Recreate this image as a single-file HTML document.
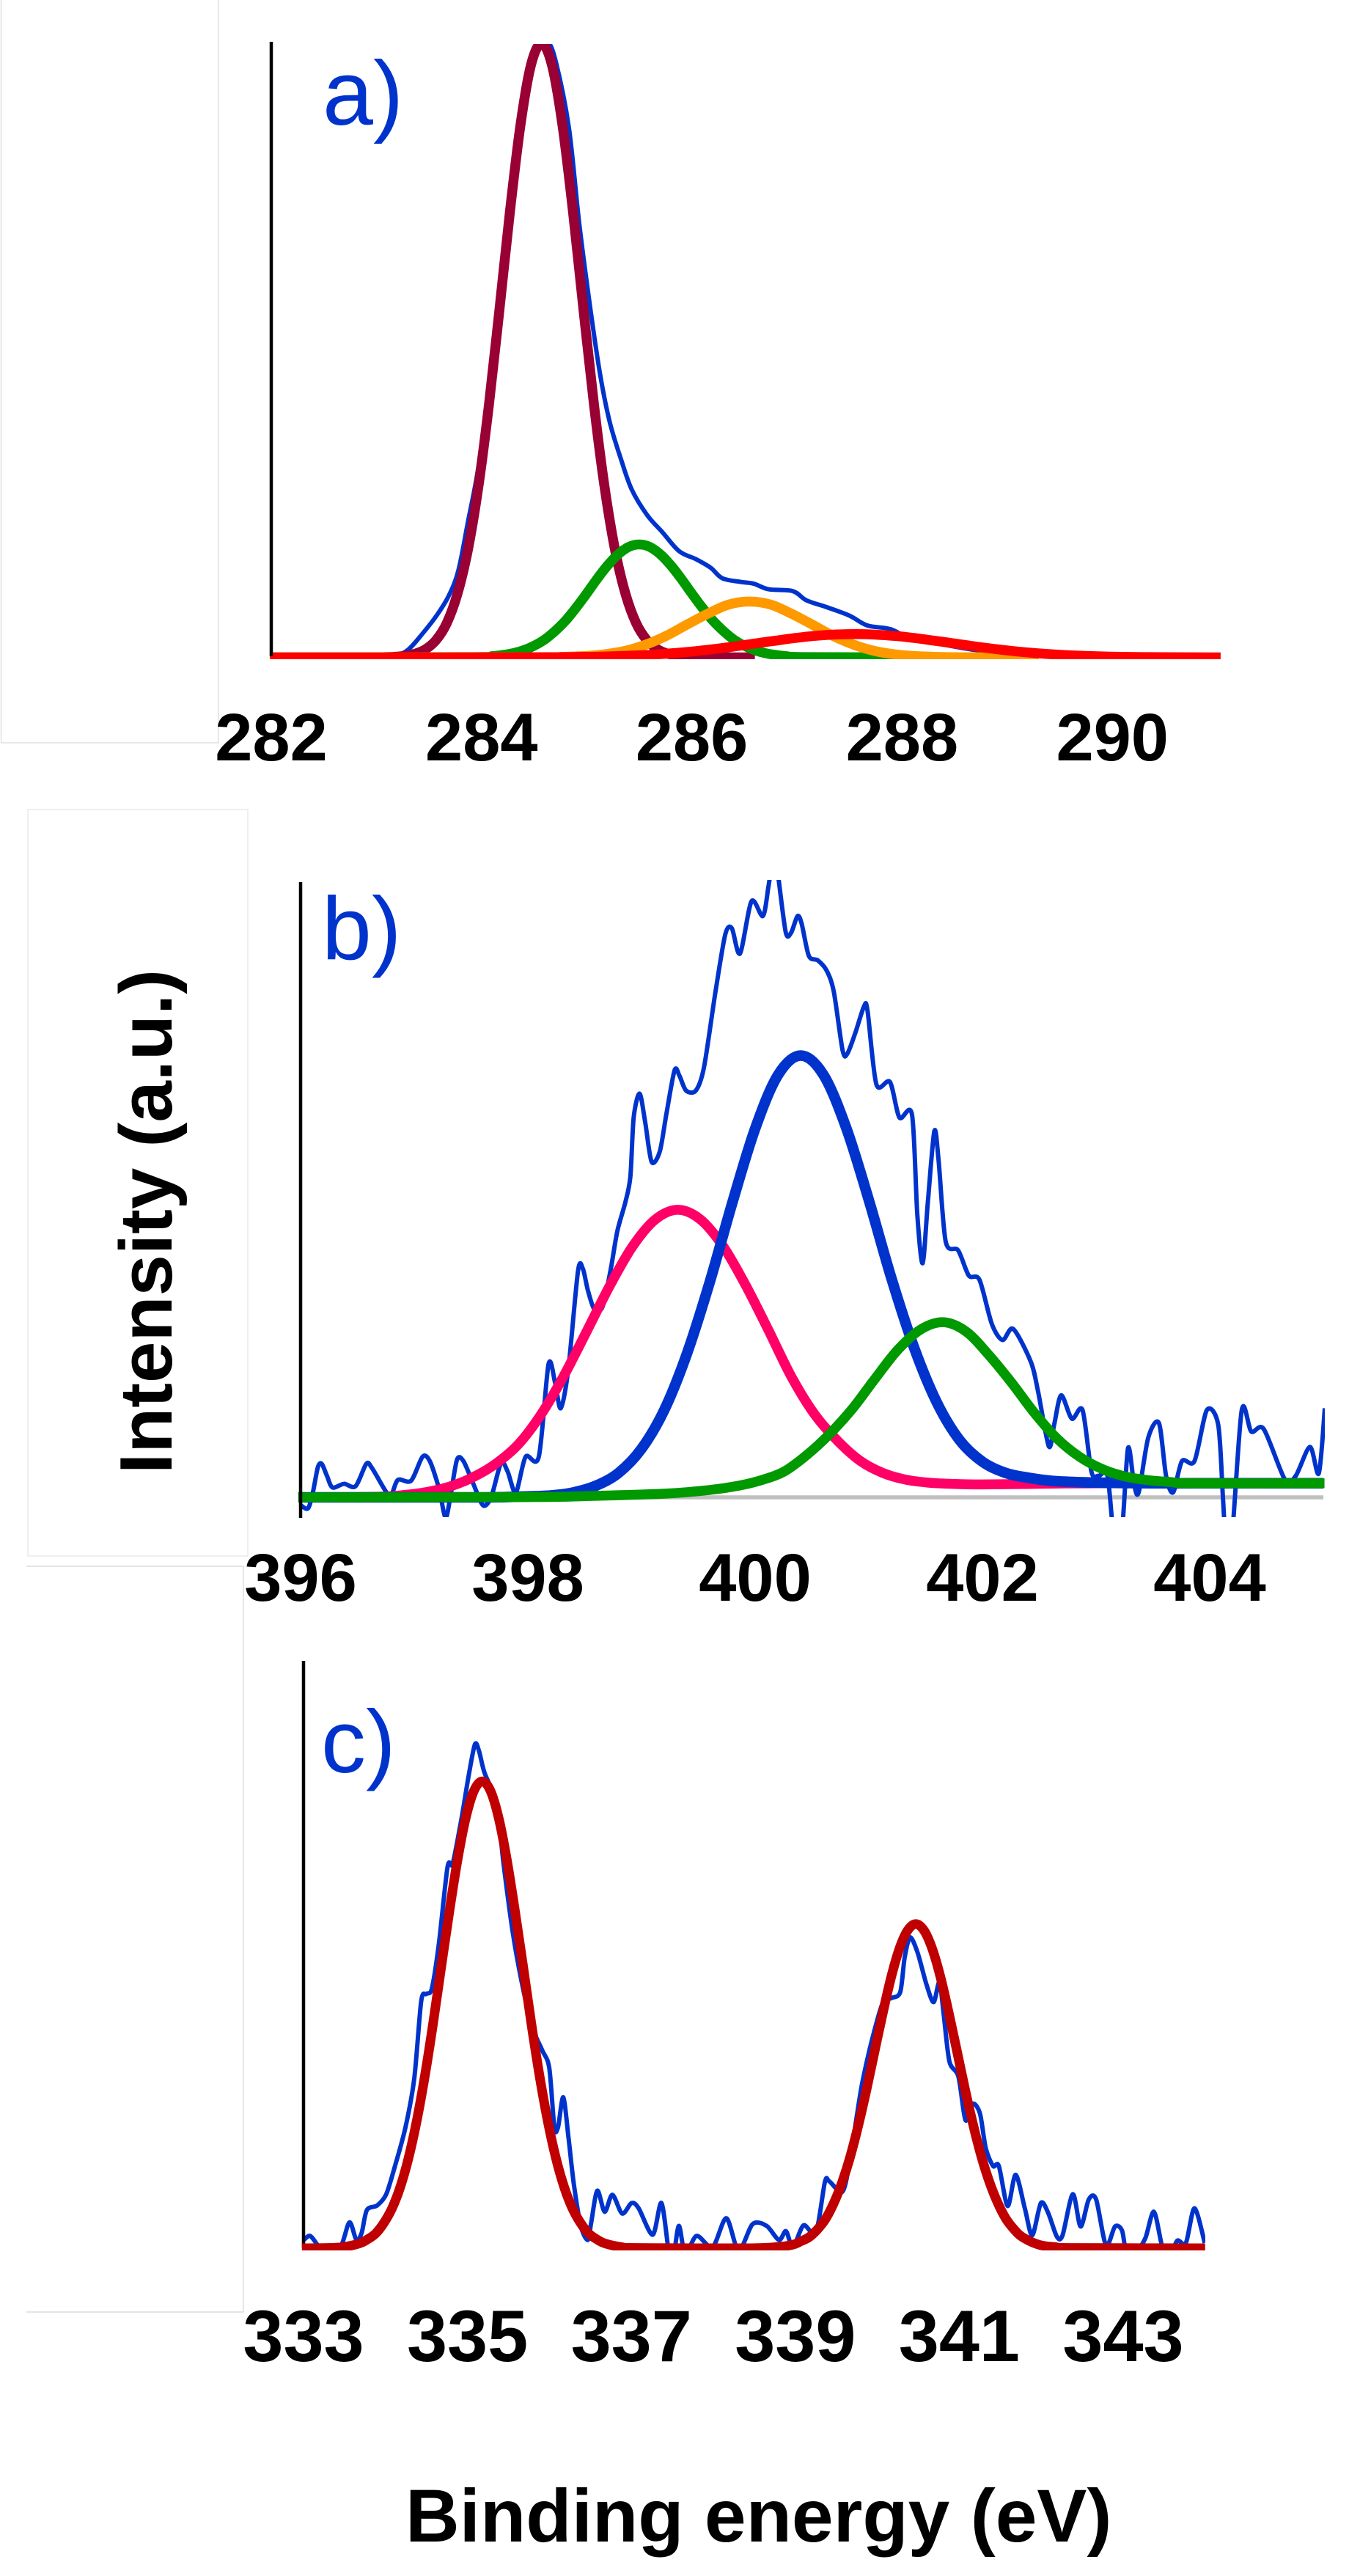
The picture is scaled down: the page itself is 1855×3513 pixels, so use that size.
<!DOCTYPE html>
<html lang="en">
<head>
<meta charset="utf-8">
<title>XPS spectra</title>
<style>
html,body{margin:0;padding:0;background:#fff;}
svg{display:block;}
text{font-family:"Liberation Sans",sans-serif;}
</style>
</head>
<body>
<svg id="chart" xmlns="http://www.w3.org/2000/svg" width="1855" height="3513" viewBox="0 0 1855 3513">
<defs>
<clipPath id="clip-a"><rect x="360" y="60" width="1305" height="839"/></clipPath>
<clipPath id="clip-b"><rect x="400" y="1200" width="1407" height="869"/></clipPath>
<clipPath id="clip-bthin"><rect x="410" y="1200" width="1397" height="869"/></clipPath>
<clipPath id="clip-c"><rect x="405" y="2265" width="1239" height="804"/></clipPath>
<clipPath id="clip-cthin"><rect x="414" y="2265" width="1230" height="799"/></clipPath>
</defs>
<rect x="0" y="0" width="1855" height="3513" fill="#fff"/>
<g fill="none" stroke="#d8d8d8" stroke-width="1.2">
<rect x="1.5" y="-3" width="296.5" height="1016"/>
<rect x="38" y="1104" width="300" height="1018" stroke="#e4e4e4"/>
<path d="M36 2136H332V3153H36" stroke="#d4d4d4"/>
</g>
<text transform="translate(234,2010) rotate(-90)" font-size="101.5" font-weight="700" fill="#000">Intensity (a.u.)</text>
<text x="553" y="3466" font-size="102" font-weight="700" fill="#000">Binding energy (eV)</text>
</svg>
<script>
// Panel a: C 1s
const ticksA = [282, 284, 286, 288, 290];
const aBlueX = [282,283,283.156,283.298,283.44,283.58,283.69,283.78,283.87,283.97,284.07,284.17,284.27,284.37,284.47,284.57,284.62,284.7,284.83,284.93,285.04,285.13,285.22,285.33,285.43,285.575,285.72,285.88,286.04,286.18,286.29,286.465,286.59,286.73,286.96,287.09,287.28,287.5,287.67,287.89,288.07,288.3,288.7,289.2,289.8,291];
const aBlueY = [0,0,0.1,1.2,3.9,7,10.1,14.2,22,31,44,60,74,87.5,97,100,100.5,97.5,86.4,70.6,56.2,45.9,38.3,32.1,27.3,23.2,20.4,17.3,16,14.6,12.9,12.3,12,11.1,10.8,9.3,8.2,6.8,5.2,4.6,3.1,2.4,1.2,0.4,0.1,0];
const aMaroonX = [282,283,283.07,283.17,283.27,283.37,283.47,283.57,283.67,283.77,283.87,283.97,284.07,284.17,284.27,284.37,284.47,284.57,284.67,284.77,284.87,284.97,285.07,285.17,285.27,285.37,285.47,285.57,285.67,285.77,285.87,285.97,286.07,286.6];
const aMaroonY = [0,0,0.03,0.09,0.25,0.6,1.36,2.86,5.6,10.3,17.5,27.8,41.1,56.6,72.6,86.7,96.5,100,96.5,86.7,72.6,56.6,41.1,27.8,17.5,10.3,5.6,2.86,1.36,0.6,0.25,0.09,0.03,0];
const aGreenX = [282,283.9,284.1,284.2,284.3,284.4,284.5,284.6,284.7,284.8,284.9,285,285.1,285.2,285.3,285.4,285.5,285.6,285.7,285.8,285.9,286,286.1,286.2,286.3,286.4,286.5,286.6,286.7,286.8,286.9,287.1,288.4];
const aGreenY = [0,0.05,0.2,0.39,0.68,1.16,1.9,2.9,4.3,6,8.1,10.4,12.8,15,16.8,18,18.4,18,16.8,15,12.8,10.4,8.1,6,4.3,2.9,1.9,1.16,0.68,0.39,0.2,0.05,0];
const aOrangeX = [282,284.55,284.75,284.95,285.15,285.35,285.55,285.75,285.95,286.15,286.35,286.55,286.75,286.95,287.15,287.35,287.55,287.75,287.95,288.15,288.35,288.55,289.3];
const aOrangeY = [0,0.02,0.07,0.19,0.46,1,2,3.45,5.3,7.1,8.6,9.1,8.6,7.1,5.3,3.45,2,1,0.46,0.19,0.07,0.02,0];
const aRedX = [281.986,284.35,284.75,285.15,285.55,285.95,286.35,286.75,287.15,287.55,287.95,288.35,288.75,289.15,289.55,289.95,290.35,290.75,291.03];
const aRedY = [0,0.01,0.04,0.14,0.38,0.87,1.65,2.62,3.47,3.8,3.47,2.62,1.65,0.87,0.38,0.14,0.04,0.01,0];

// Panel b: N 1s
const ticksB = [396, 398, 400, 402, 404];
const bBaseX = [396, 405];
const bBaseY = [0, 0];
const bNoisyX = [396,396.065,396.108,396.152,396.186,396.232,396.281,396.382,396.483,396.578,396.627,396.756,396.8,396.857,396.972,397.073,397.137,397.217,397.275,397.318,397.376,397.433,397.52,397.606,397.678,397.764,397.822,397.894,397.98,398.096,398.182,398.24,398.289,398.355,398.441,398.484,398.528,398.585,398.657,398.729,398.787,398.859,398.902,398.931,398.983,399.032,399.089,399.161,399.219,399.291,399.334,399.392,399.478,399.55,399.651,399.737,399.795,399.867,399.968,400.068,400.117,400.155,400.176,400.207,400.27,400.317,400.373,400.41,400.473,400.551,400.63,400.692,400.77,400.811,400.88,400.958,400.989,401.067,401.186,401.27,401.38,401.427,401.474,401.52,401.577,401.614,401.677,401.786,401.88,401.974,402.083,402.177,402.271,402.427,402.49,402.584,402.631,402.693,402.787,402.881,402.959,403.021,403.1,403.156,403.225,403.281,403.334,403.375,403.459,403.553,403.616,403.678,403.756,403.866,403.975,404.075,404.116,404.141,404.194,404.282,404.366,404.476,404.663,404.757,404.882,404.96,405.013];
const bNoisyY = [-1.26,-1.8,0.8,4.9,5.45,3.5,1.6,2.2,1.8,5.45,4.8,0.8,0.45,2.85,2.7,6.6,5.9,1.5,-3.3,0.1,6.1,5.9,2.2,-1.3,0.1,5.6,4.2,0.8,6.6,6.6,21.7,18.6,14.5,20.7,36.8,37.2,33.7,30.6,31,37.1,43.3,48.1,52.2,61.8,65.7,61.1,54.6,56.3,62.4,69.5,68.6,66.2,66.2,70,82.3,91.6,92.6,88.5,97,94.6,99.4,104,105,100.5,91.9,91.9,94.6,93.3,88.1,87.4,85.7,82.3,72.7,72.2,75.5,79.9,79.2,67.2,67.6,61.8,62.3,46,38.1,48.1,59.6,54.9,41.6,40.2,36.1,35.4,28.2,25.6,27.4,22,17.2,8.3,11.8,16.6,12.8,14.2,4.2,3.5,3.5,-6,-6,8,2.2,0.8,9.7,12.1,3.5,0.8,5.9,5.9,14.2,11.8,0.1,-6.7,-6.7,14.2,10.7,11.1,2.85,3.5,8.2,3.9,14.5];
const bPinkX = [395.98,396.7,396.92,397.12,397.32,397.52,397.72,397.92,398.12,398.32,398.52,398.72,398.92,399.12,399.32,399.52,399.72,399.92,400.12,400.32,400.52,400.72,400.92,401.12,401.32,401.52,401.72,402,402.5,403,405];
const bPinkY = [0,0.1,0.4,0.9,1.8,3.3,5.5,8.7,13.6,19.9,27.1,34.4,40.8,45.2,46.8,45.2,40.8,34.4,27.1,19.6,13.6,9.3,6,4,2.9,2.4,2.2,2.1,2.2,2.3,2.3];
const bFitBlueX = [395.98,397.5,397.9,398.2,398.4,398.6,398.8,399,399.2,399.4,399.6,399.8,400,400.2,400.4,400.6,400.8,401,401.2,401.4,401.6,401.8,402,402.2,402.4,402.6,402.8,403,403.5,405];
const bFitBlueY = [0,0,0.1,0.3,0.8,1.9,4,7.9,14.2,23.4,35,48,60,68.7,71.9,68.8,60.2,48.4,35.6,24.3,15.4,9.3,5.8,4,3.2,2.7,2.5,2.4,2.3,2.3];
const bGreenX = [395.98,398,398.5,399.2,399.6,399.855,400.055,400.255,400.455,400.655,400.855,401.055,401.255,401.455,401.655,401.855,402.055,402.255,402.455,402.655,402.855,403.055,403.255,403.455,403.655,403.855,405.01];
const bGreenY = [0,0.05,0.2,0.6,1.2,1.9,2.8,4.2,6.9,10.3,14.4,19.3,24,27.3,28.5,27,23.2,18.7,13.8,9.6,6.6,4.6,3.4,2.8,2.5,2.3,2.3];

// Panel c: Cd 3d
const ticksC = [333, 335, 337, 339, 341, 343];
const cNoisyX = [333.003,333.08,333.174,333.26,333.45,333.56,333.645,333.709,333.773,333.9,334.009,334.116,334.244,334.351,334.436,334.5,334.565,334.65,334.757,334.82,334.928,335.014,335.091,335.142,335.207,335.356,335.44,335.549,335.656,335.784,335.912,335.998,336.06,336.105,336.169,336.233,336.297,336.383,336.468,336.51,336.584,336.674,336.768,336.888,337.003,337.089,337.26,337.367,337.461,337.517,337.58,337.658,337.795,337.99,338.158,338.308,338.479,338.65,338.8,338.886,338.971,339.1,339.25,339.361,339.414,339.573,339.66,339.75,339.82,339.945,340.07,340.175,340.28,340.334,340.4,340.49,340.6,340.687,340.758,340.81,340.88,340.99,341.076,341.165,341.253,341.324,341.413,341.483,341.59,341.688,341.8,341.89,341.996,342.085,342.19,342.26,342.385,342.48,342.58,342.67,342.79,342.9,342.986,343.04,343.15,343.27,343.375,343.48,343.57,343.66,343.765,343.87,343.995];
const cNoisyY = [1.4,2.1,0.5,-1,0.2,4.4,1.4,2.6,6.5,7.3,9.2,14,20.6,28.9,42.1,43.3,44.2,51.7,64.9,65.5,73.2,80.4,85.8,84.6,81,75.6,65.5,54.1,45.7,37.9,33.7,30.7,20.6,20.6,25.7,18.8,11,3.8,1.4,4.4,9.8,6.2,9.1,5.9,7.7,6.8,2.3,7.7,-1,-1,3.8,-1,2.1,0.2,5.1,-0.4,4.1,3.8,1.4,2.9,0.2,3.9,2.6,11.3,11.4,9.6,14.4,22.5,28.4,36,41.9,42.6,43.6,49.5,52.9,50.4,44.9,41.9,45.3,39.8,31.8,29.2,21.8,24.6,22.9,17,14,14,7.2,12.5,6.8,2.2,7.7,6,2,2.2,9.2,3.7,8.3,8.3,0.5,3.7,3,-0.8,-0.8,1.7,6.2,0.05,-1.2,1.3,0.9,6.8,0.9];
const cFitX = [332.98,333.28,333.48,333.68,333.78,333.88,333.98,334.08,334.18,334.28,334.38,334.48,334.58,334.68,334.78,334.88,334.98,335.08,335.18,335.28,335.38,335.48,335.58,335.68,335.78,335.88,335.98,336.08,336.18,336.28,336.38,336.48,336.58,336.68,336.88,337.08,338.4,338.77,338.97,339.07,339.17,339.27,339.37,339.47,339.57,339.67,339.77,339.87,339.97,340.07,340.17,340.27,340.37,340.47,340.57,340.67,340.77,340.87,340.97,341.07,341.17,341.27,341.37,341.47,341.57,341.67,341.77,341.97,342.17,342.4,344];
const cFitY = [0,0.05,0.2,0.8,1.5,2.5,4.3,6.8,10.4,15.3,21.6,29.3,38.2,47.9,57.4,66.2,73.3,77.9,79.5,77.9,73.3,66.2,57.4,47.9,38.2,29.3,21.6,15.3,10.4,6.8,4.3,2.5,1.5,0.8,0.2,0.05,0,0.2,0.6,1.2,1.9,3.2,5,7.7,11.2,15.6,21,27.1,33.7,40.2,46.2,51,54.1,55.2,54.1,51,46.2,40.2,33.7,27.1,21,15.6,11.2,7.7,5,3.2,1.9,0.6,0.2,0.05,0];

const SVGNS = 'http://www.w3.org/2000/svg';
const svg = document.getElementById('chart');

function xA(v){ return 370 + (v - 282) * 143.4; }
function yA(v){ return 896.5 - v * 8.37; }
function xB(v){ return 410 + (v - 396) * 155; }
function yB(v){ return 2042 - v * 8.38; }
function xC(v){ return 414 + (v - 333) * 111.8; }
function yC(v){ return 3066 - v * 8.01; }

function smoothPath(xs, ys, sx, sy, k){
  const p = xs.map(function(x, i){ return [sx(x), sy(ys[i])]; });
  let d = 'M' + p[0][0].toFixed(2) + ' ' + p[0][1].toFixed(2);
  for (let i = 0; i < p.length - 1; i++){
    const a = p[Math.max(i - 1, 0)], b = p[i], c = p[i + 1], e = p[Math.min(i + 2, p.length - 1)];
    const c1x = b[0] + (c[0] - a[0]) * k, c1y = b[1] + (c[1] - a[1]) * k;
    const c2x = c[0] - (e[0] - b[0]) * k, c2y = c[1] - (e[1] - b[1]) * k;
    d += 'C' + c1x.toFixed(2) + ' ' + c1y.toFixed(2) + ' ' + c2x.toFixed(2) + ' ' + c2y.toFixed(2) + ' ' + c[0].toFixed(2) + ' ' + c[1].toFixed(2);
  }
  return d;
}

function addLine(parent, name, xs, ys, sx, sy, color, width, clip, k){
  const el = document.createElementNS(SVGNS, 'path');
  
  
  el.setAttribute('d', smoothPath(xs, ys, sx, sy, k));
  el.setAttribute('fill', 'none');
  el.setAttribute('stroke', color);
  el.setAttribute('stroke-width', width);
  el.setAttribute('stroke-linejoin', 'round');
  el.setAttribute('clip-path', 'url(#' + clip + ')');
  parent.appendChild(el);
}

function addAxisLine(parent, name, x, y1, y2){
  const el = document.createElementNS(SVGNS, 'line');
  
  
  el.setAttribute('x1', x);
  el.setAttribute('x2', x);
  el.setAttribute('y1', y1);
  el.setAttribute('y2', y2);
  el.setAttribute('stroke', '#000');
  el.setAttribute('stroke-width', 4.5);
  parent.appendChild(el);
}

function addTicks(parent, prefix, ticks, sx, baseline, size){
  ticks.forEach(function(t){
    const el = document.createElementNS(SVGNS, 'text');
    
    
    el.setAttribute('x', sx(t));
    el.setAttribute('y', baseline);
    el.setAttribute('text-anchor', 'middle');
    el.setAttribute('font-size', size);
    el.setAttribute('font-weight', '700');
    el.setAttribute('fill', '#000');
    el.textContent = String(t);
    parent.appendChild(el);
  });
}

function addPanelLabel(parent, name, label, x, y, size){
  const el = document.createElementNS(SVGNS, 'text');
  
  
  el.setAttribute('x', x);
  el.setAttribute('y', y);
  el.setAttribute('font-size', size);
  el.setAttribute('fill', '#0033cc');
  el.textContent = label;
  parent.appendChild(el);
}

function addGroup(name){
  const g = document.createElementNS(SVGNS, 'g');
  
  
  svg.appendChild(g);
  return g;
}

const TH = 6, FIT = 13.5;

const pa = addGroup('panel-a');
addLine(pa, 'a-measured-line', aBlueX, aBlueY, xA, yA, '#0033cc', TH, 'clip-a', 1/6);
addLine(pa, 'a-peak-maroon', aMaroonX, aMaroonY, xA, yA, '#990033', FIT, 'clip-a', 1/6);
addLine(pa, 'a-peak-green', aGreenX, aGreenY, xA, yA, '#009900', FIT, 'clip-a', 1/6);
addLine(pa, 'a-peak-orange', aOrangeX, aOrangeY, xA, yA, '#ff9900', FIT, 'clip-a', 1/6);
addLine(pa, 'a-peak-red', aRedX, aRedY, xA, yA, '#ff0000', FIT, 'clip-a', 1/6);
addAxisLine(pa, 'a-y-axis', 370, 57, 895);
addTicks(pa, 'a-x', ticksA, xA, 1037, 92);
addPanelLabel(pa, 'a-panel-label', 'a)', 440, 170, 124);

const pb = addGroup('panel-b');
addLine(pb, 'b-baseline', bBaseX, bBaseY, xB, yB, '#bfbfbf', 5.5, 'clip-b', 1/6);
addLine(pb, 'b-measured-line', bNoisyX, bNoisyY, xB, yB, '#0033cc', TH, 'clip-bthin', 1/7);
addLine(pb, 'b-peak-pink', bPinkX, bPinkY, xB, yB, '#ff0066', FIT, 'clip-b', 1/6);
addLine(pb, 'b-peak-blue', bFitBlueX, bFitBlueY, xB, yB, '#0033cc', FIT + 1, 'clip-b', 1/6);
addLine(pb, 'b-peak-green', bGreenX, bGreenY, xB, yB, '#009900', FIT, 'clip-b', 1/6);
addAxisLine(pb, 'b-y-axis', 410, 1203, 2070);
addTicks(pb, 'b-x', ticksB, xB, 2183, 92);
addPanelLabel(pb, 'b-panel-label', 'b)', 439, 1308, 122);

const pc = addGroup('panel-c');
addLine(pc, 'c-measured-line', cNoisyX, cNoisyY, xC, yC, '#0033cc', TH, 'clip-cthin', 1/7);
addAxisLine(pc, 'c-y-axis', 414, 2265, 3065);
addLine(pc, 'c-peak-fit', cFitX, cFitY, xC, yC, '#c00000', FIT - 0.5, 'clip-c', 1/6);
addTicks(pc, 'c-x', ticksC, xC, 3220, 99);
addPanelLabel(pc, 'c-panel-label', 'c)', 438, 2417, 122);
</script>
</body>
</html>
